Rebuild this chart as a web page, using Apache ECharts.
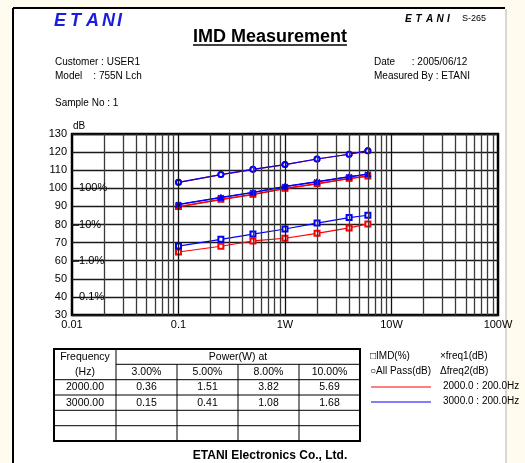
<!DOCTYPE html>
<html><head><meta charset="utf-8">
<script src="https://cdn.jsdelivr.net/npm/echarts@6/dist/echarts.min.js"></script>
<style>html,body{margin:0;padding:0;background:#fffbef;}#c{width:525px;height:463px;}</style>
</head><body><div id="c"></div>
<script>
// ---- data ----
const power = [0.1, 0.25, 0.5, 1, 2, 4, 6];               // W
const allPass2000 = [103.3, 107.6, 110.5, 113.1, 116.2, 118.8, 120.8];
const allPass3000 = [103.3, 107.6, 110.5, 113.1, 116.2, 118.8, 120.8];
const freq1_2000 = [89.7, 93.7, 96.5, 99.8, 102.4, 105.3, 106.6];
const freq2_2000 = [89.9, 93.9, 96.7, 100.0, 102.6, 105.5, 106.8];
const freq1_3000 = [91.0, 94.8, 97.6, 100.9, 103.5, 106.3, 107.7];
const freq2_3000 = [91.2, 95.0, 97.8, 101.1, 103.7, 106.5, 107.9];
const imd2000 = [64.8, 68.0, 70.9, 72.4, 75.1, 78.1, 80.3];   // dB scale (1%=60dB)
const imd3000 = [68.1, 71.8, 74.7, 77.5, 80.8, 83.8, 85.1];
const imdRefDb = [100, 80, 60, 40];
const imdRefLabels = ['100%', '10%', '1.0%', '0.1%'];
const xTickLabels = {'0.01':'0.01','0.1':'0.1','1':'1W','10':'10W','100':'100W'};
const minorX = [0.02,0.03,0.04,0.05,0.06,0.07,0.08,0.09,0.2,0.3,0.4,0.5,0.6,0.7,0.8,0.9,2,3,4,5,6,7,8,9,20,30,40,50,60,70,80,90];
const decadeX = [0.1, 1, 10];
const tableFreq = ['2000.00', '3000.00', '', ''];
const tablePct = ['3.00%', '5.00%', '8.00%', '10.00%'];
const tablePow = [['0.36','1.51','3.82','5.69'], ['0.15','0.41','1.08','1.68'], ['','','',''], ['','','','']];
const legendSeries = ['2000.0 : 200.0Hz', '3000.0 : 200.0Hz'];

const RED = '#ff0000', BLUE = '#0000ff';
const FONT = 'Liberation Sans';
const xMark = 'path://M0,0L1,0L5,4L9,0L10,0L10,1L6,5L10,9L10,10L9,10L5,6L1,10L0,10L0,9L4,5L0,1Z';

function z(a){ return power.map((p,i)=>[p,a[i]]); }
function ser(name, data, color, symbol, zz, size){
  return {
    name, type:'line', data:z(data), symbol, symbolSize:size||5, z:zz,
    lineStyle:{color, width:1.2}, showSymbol:true,
    itemStyle:{color: color, borderColor:color, borderWidth:1},
    emphasis:{disabled:true}, silent:true
  };
}

const graphic = [];
// page
graphic.push({type:'rect', shape:{x:13,y:8,width:492,height:460}, style:{fill:'#ffffff'}, z:-10});
graphic.push({type:'line', shape:{x1:13,y1:8,x2:505,y2:8}, style:{stroke:'#000',lineWidth:2}, z:-9});
graphic.push({type:'line', shape:{x1:13,y1:8,x2:13,y2:463}, style:{stroke:'#000',lineWidth:2}, z:-9});
graphic.push({type:'line', shape:{x1:506,y1:9,x2:506,y2:463}, style:{stroke:'#d8d8d0',lineWidth:2}, z:-9});
// logo letters
const logo = 'ETANI';
logo.split('').forEach((ch,i)=>{
  graphic.push({type:'text', x:[54,70,86,102,117][i], y:12, style:{text:ch, fill:'#1c1ce0', font:'italic bold 18px "'+FONT+'"'}});
});
'ETANI'.split('').forEach((ch,i)=>{
  graphic.push({type:'text', x:405+i*10.5, y:14, style:{text:ch, fill:'#000', font:'italic bold 10px "'+FONT+'"'}});
});
graphic.push({type:'text', x:462, y:14, style:{text:'S-265', fill:'#000', font:'9px "'+FONT+'"'}});
// title
graphic.push({type:'text', x:270, y:28, style:{text:'IMD Measurement', fill:'#000', font:'bold 18px "'+FONT+'"', textAlign:'center'}});
graphic.push({type:'line', shape:{x1:193,y1:45,x2:347,y2:45}, style:{stroke:'#000',lineWidth:1.5}});
const small = '10px "'+FONT+'"';
graphic.push({type:'text', x:55, y:57, style:{text:'Customer : USER1', fill:'#000', font:small}});
graphic.push({type:'text', x:55, y:71, style:{text:'Model    : 755N Lch', fill:'#000', font:small}});
graphic.push({type:'text', x:374, y:57, style:{text:'Date      : 2005/06/12', fill:'#000', font:small}});
graphic.push({type:'text', x:374, y:71, style:{text:'Measured By : ETANI', fill:'#000', font:small}});
graphic.push({type:'text', x:55, y:98, style:{text:'Sample No : 1', fill:'#000', font:small}});
graphic.push({type:'text', x:73, y:121, style:{text:'dB', fill:'#000', font:small}});

// table
const colX = [54, 116, 177, 238, 299, 360];
const rowY = [349, 364.3, 379.7, 395, 410.3, 425.7, 441];
const tfont = '10.5px "'+FONT+'"';
graphic.push({type:'line', shape:{x1:116,y1:rowY[1],x2:360,y2:rowY[1]}, style:{stroke:'#000',lineWidth:1}});
for (let r=2; r<=5; r++) graphic.push({type:'line', shape:{x1:54,y1:rowY[r],x2:360,y2:rowY[r]}, style:{stroke:'#000',lineWidth:1}});
graphic.push({type:'line', shape:{x1:116,y1:349,x2:116,y2:441}, style:{stroke:'#000',lineWidth:1}});
for (let c=2; c<=4; c++) graphic.push({type:'line', shape:{x1:colX[c],y1:rowY[1],x2:colX[c],y2:441}, style:{stroke:'#000',lineWidth:1}});
graphic.push({type:'rect', shape:{x:54,y:349,width:306,height:92}, style:{fill:'none',stroke:'#000',lineWidth:2}});
function cell(txt, cx, cy){
  graphic.push({type:'text', x:cx, y:cy, style:{text:txt, fill:'#000', font:tfont, textAlign:'center', textVerticalAlign:'middle'}});
}
cell('Frequency', 85, (rowY[0]+rowY[1])/2);
cell('(Hz)', 85, (rowY[1]+rowY[2])/2);
cell('Power(W) at', 238, (rowY[0]+rowY[1])/2);
tablePct.forEach((p,i)=>cell(p, (colX[i+1]+colX[i+2])/2, (rowY[1]+rowY[2])/2));
tableFreq.forEach((f,r)=>{
  cell(f, 85, (rowY[r+2]+rowY[r+3])/2);
  tablePow[r].forEach((v,i)=>cell(v, (colX[i+1]+colX[i+2])/2, (rowY[r+2]+rowY[r+3])/2));
});
// legend
const lfont = '10px "'+FONT+'"';
graphic.push({type:'text', x:370, y:351, style:{text:'\u25A1IMD(%)', fill:'#000', font:lfont}});
graphic.push({type:'text', x:440, y:351, style:{text:'\u00D7freq1(dB)', fill:'#000', font:lfont}});
graphic.push({type:'text', x:370, y:366, style:{text:'\u25CBAll Pass(dB)', fill:'#000', font:lfont}});
graphic.push({type:'text', x:440, y:366, style:{text:'\u0394freq2(dB)', fill:'#000', font:lfont}});
graphic.push({type:'line', shape:{x1:371,y1:387,x2:431,y2:387}, style:{stroke:RED,lineWidth:1}});
graphic.push({type:'line', shape:{x1:371,y1:402,x2:431,y2:402}, style:{stroke:BLUE,lineWidth:1}});
graphic.push({type:'text', x:443, y:381, style:{text:legendSeries[0], fill:'#000', font:lfont}});
graphic.push({type:'text', x:443, y:396, style:{text:legendSeries[1], fill:'#000', font:lfont}});
// footer
graphic.push({type:'text', x:270, y:450, style:{text:'ETANI Electronics Co., Ltd.', fill:'#000', font:'bold 12px "'+FONT+'"', textAlign:'center'}});

const option = {
  animation:false,
  backgroundColor:'transparent',
  textStyle:{fontFamily:FONT},
  grid:{left:72, top:134, width:426, height:181, show:true, borderColor:'#000', borderWidth:2.5, backgroundColor:'#fff', z:0},
  xAxis:{
    type:'log', logBase:10, min:0.01, max:100,
    axisLine:{show:false}, axisTick:{show:false},
    splitLine:{show:false},
    axisLabel:{color:'#000', fontSize:11, margin:4, fontFamily:FONT,
      formatter:v=>{ const k = String(+v.toPrecision(3)); return xTickLabels[k] || ''; }}
  },
  yAxis:{
    type:'value', min:30, max:130, interval:10,
    axisLine:{show:false}, axisTick:{show:false},
    splitLine:{show:true, lineStyle:{color:'#1a1a1a', width:1.3}},
    axisLabel:{color:'#000', fontSize:11, margin:5, fontFamily:FONT}
  },
  graphic,
  series:[
    {type:'line', data:[[0.01,30]], symbol:'none', silent:true, z:1, lineStyle:{width:0},
      markLine:{silent:true, symbol:'none', animation:false, label:{show:false},
        data: minorX.map(x=>({xAxis:x, lineStyle:{color:'#3a3a3a', width:1.3, type:'solid'}}))
          .concat(decadeX.map(x=>({xAxis:x, lineStyle:{color:'#111', width:1.3, type:'solid'}})))}},
    ser('AllPass2000', allPass2000, RED, 'emptyCircle', 3),
    ser('freq1_2000', freq1_2000, RED, xMark, 3, 5),
    ser('freq2_2000', freq2_2000, RED, 'emptyRect', 3),
    ser('IMD2000', imd2000, RED, 'emptyRect', 3),
    ser('freq1_3000', freq1_3000, BLUE, xMark, 4, 5),
    ser('freq2_3000', freq2_3000, BLUE, 'triangle', 4, 6),
    ser('IMD3000', imd3000, BLUE, 'emptyRect', 4),
    ser('AllPass3000', allPass3000, BLUE, 'emptyCircle', 4)
  ]
};
const chart = echarts.init(document.getElementById('c'), null, {renderer:'canvas'});
chart.setOption(option);
// IMD % reference labels positioned through the axis scales
const refTexts = imdRefDb.map((d,i)=>{
  const p = chart.convertToPixel({gridIndex:0}, [0.01, d]);
  return {type:'text', x:p[0]+1, y:p[1], z:50,
    style:{text:'\u2013'+imdRefLabels[i], fill:'#000', font:'11px "'+FONT+'"', textVerticalAlign:'middle'}};
});
chart.setOption({graphic: graphic.concat(refTexts)}, {replaceMerge:['graphic']});
</script></body></html>
